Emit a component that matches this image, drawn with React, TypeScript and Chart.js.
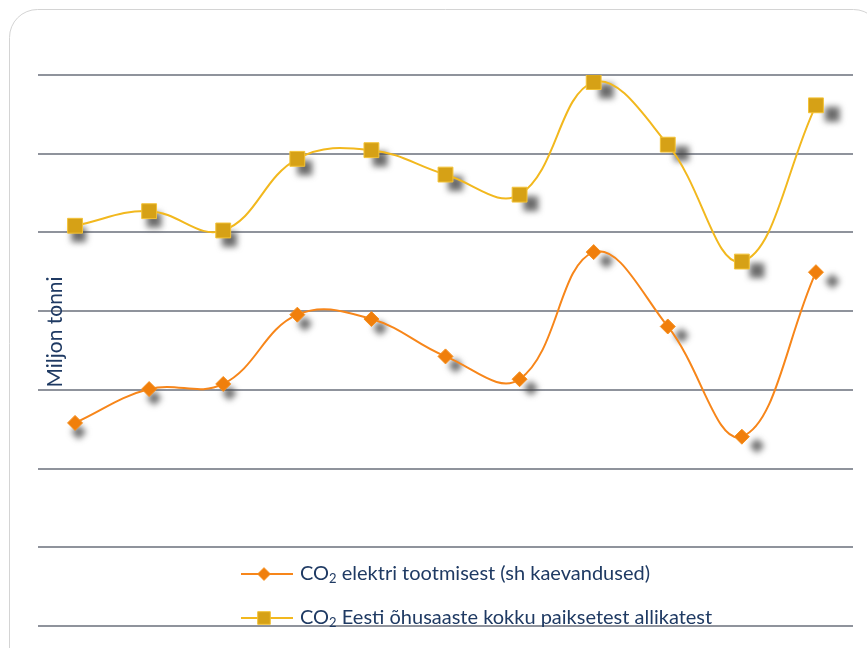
import React, { useEffect, useRef } from 'react';
import { Chart, registerables } from 'chart.js';

Chart.register(...registerables);

// Yearly CO2 emissions, million tonnes
const years = ['1998', '1999', '2000', '2001', '2002', '2003', '2004', '2005', '2006', '2007', '2008'];
const electricityCO2 = [9.16, 10.02, 10.15, 11.91, 11.8, 10.85, 10.27, 13.5, 11.61, 8.81, 12.99];
const stationaryCO2 = [14.17, 14.54, 14.05, 15.87, 16.09, 15.47, 14.96, 17.82, 16.23, 13.26, 17.23];

const seriesLabels = [
  'CO₂ elektri tootmisest (sh kaevandused)',
  'CO₂ Eesti õhusaaste kokku paiksetest allikatest',
];
const axisTitle = 'Miljon tonni';

const yMin = 4;
const yMax = 18;
const yStep = 2;

const FONT_FAMILY = 'Lato, "Open Sans", sans-serif';
const TEXT_COLOR = '#1f3a63';

type Shape = 'rect' | 'rectRot';

function shapePath(ctx: CanvasRenderingContext2D, shape: Shape, x: number, y: number, r: number) {
  ctx.beginPath();
  if (shape === 'rect') {
    const s = r * Math.SQRT1_2;
    ctx.rect(x - s, y - s, 2 * s, 2 * s);
  } else {
    ctx.moveTo(x - r, y);
    ctx.lineTo(x, y - r);
    ctx.lineTo(x + r, y);
    ctx.lineTo(x, y + r);
    ctx.closePath();
  }
}

// Rounded frame around the whole chart
const framePlugin = {
  id: 'frame',
  beforeDraw(chart: any) {
    const ctx = chart.ctx as CanvasRenderingContext2D;
    ctx.save();
    ctx.fillStyle = '#ffffff';
    ctx.fillRect(0, 0, chart.width, chart.height);
    ctx.strokeStyle = '#d4d4d4';
    ctx.lineWidth = 1;
    ctx.beginPath();
    (ctx as any).roundRect(9.5, 9.5, 872, 670, 28);
    ctx.stroke();
    ctx.restore();
  },
};

// Soft drop shadows under each marker, cast further right across the plot
const markerShadowPlugin = {
  id: 'markerShadow',
  beforeDatasetsDraw(chart: any) {
    const ctx = chart.ctx as CanvasRenderingContext2D;
    const area = chart.chartArea;
    ctx.save();
    ctx.filter = 'blur(3px)';
    ctx.fillStyle = 'rgba(70,70,70,0.8)';
    chart.data.datasets.forEach((ds: any, i: number) => {
      const meta = chart.getDatasetMeta(i);
      meta.data.forEach((pt: any) => {
        const frac = (pt.x - area.left) / area.width;
        const dx = 3 + 14 * frac;
        const dy = 9;
        shapePath(ctx, ds.pointStyle, pt.x + dx, pt.y + dy, ds.pointRadius);
        ctx.fill();
      });
    });
    ctx.restore();
  },
};

// Axis title and the stacked legend drawn inside the plot
const annotationsPlugin = {
  id: 'annotations',
  afterDraw(chart: any) {
    const ctx = chart.ctx as CanvasRenderingContext2D;
    ctx.save();
    ctx.fillStyle = TEXT_COLOR;
    ctx.font = `21px ${FONT_FAMILY}`;
    ctx.textBaseline = 'middle';

    // y-axis title
    ctx.save();
    ctx.translate(55, 332);
    ctx.rotate(-Math.PI / 2);
    ctx.textAlign = 'center';
    ctx.fillText(axisTitle, 0, 0);
    ctx.restore();

    // legend
    const rows = [574, 618];
    chart.data.datasets.forEach((ds: any, i: number) => {
      const y = rows[i];
      ctx.strokeStyle = ds.borderColor;
      ctx.lineWidth = 2;
      ctx.beginPath();
      ctx.moveTo(241, y);
      ctx.lineTo(293, y);
      ctx.stroke();
      shapePath(ctx, ds.pointStyle, 264, y, ds.pointRadius * 0.85);
      ctx.fillStyle = ds.pointBackgroundColor;
      ctx.fill();
      ctx.strokeStyle = ds.pointBorderColor;
      ctx.lineWidth = ds.pointBorderWidth;
      ctx.stroke();

      const [head, tail] = String(ds.label).split('₂');
      let x = 300;
      ctx.fillStyle = TEXT_COLOR;
      ctx.textAlign = 'left';
      ctx.font = `20px ${FONT_FAMILY}`;
      ctx.fillText(head, x, y);
      x += ctx.measureText(head).width;
      ctx.font = `13px ${FONT_FAMILY}`;
      ctx.fillText('2', x, y + 5);
      x += ctx.measureText('2').width;
      ctx.font = `20px ${FONT_FAMILY}`;
      ctx.fillText(tail, x, y);
    });
    ctx.restore();
  },
};

export default function App() {
  const canvasRef = useRef<HTMLCanvasElement | null>(null);

  useEffect(() => {
    const canvas = canvasRef.current;
    if (!canvas) return;
    const chart = new Chart(canvas, {
      type: 'line',
      data: {
        labels: years,
        datasets: [
          {
            label: seriesLabels[0],
            data: electricityCO2,
            borderColor: '#f7861a',
            borderWidth: 2,
            tension: 0.4,
            pointStyle: 'rectRot',
            pointRadius: 7.5,
            pointBackgroundColor: '#f07f0c',
            pointBorderColor: '#f7901f',
            pointBorderWidth: 1,
            fill: false,
          },
          {
            label: seriesLabels[1],
            data: stationaryCO2,
            borderColor: '#f2b81e',
            borderWidth: 2,
            tension: 0.4,
            pointStyle: 'rect',
            pointRadius: 10.5,
            pointBackgroundColor: '#d6a116',
            pointBorderColor: '#f3c236',
            pointBorderWidth: 1,
            fill: false,
          },
        ],
      },
      options: {
        responsive: false,
        animation: false,
        layout: { padding: { left: 38, top: 75, right: 14, bottom: 22 } },
        plugins: {
          legend: { display: false },
          tooltip: { enabled: false },
          title: { display: false },
        },
        scales: {
          x: {
            display: false,
            offset: true,
          },
          y: {
            min: yMin,
            max: yMax,
            ticks: { display: false, stepSize: yStep },
            border: { display: false },
            grid: { color: '#8f939c', lineWidth: 2, drawTicks: false },
          },
        },
      },
      plugins: [framePlugin, markerShadowPlugin, annotationsPlugin],
    });
    return () => chart.destroy();
  }, []);

  return (
    <div style={{ position: 'absolute', left: 0, top: 0, width: 867, height: 648, background: '#fff' }}>
      <canvas ref={canvasRef} width={867} height={648} />
    </div>
  );
}
